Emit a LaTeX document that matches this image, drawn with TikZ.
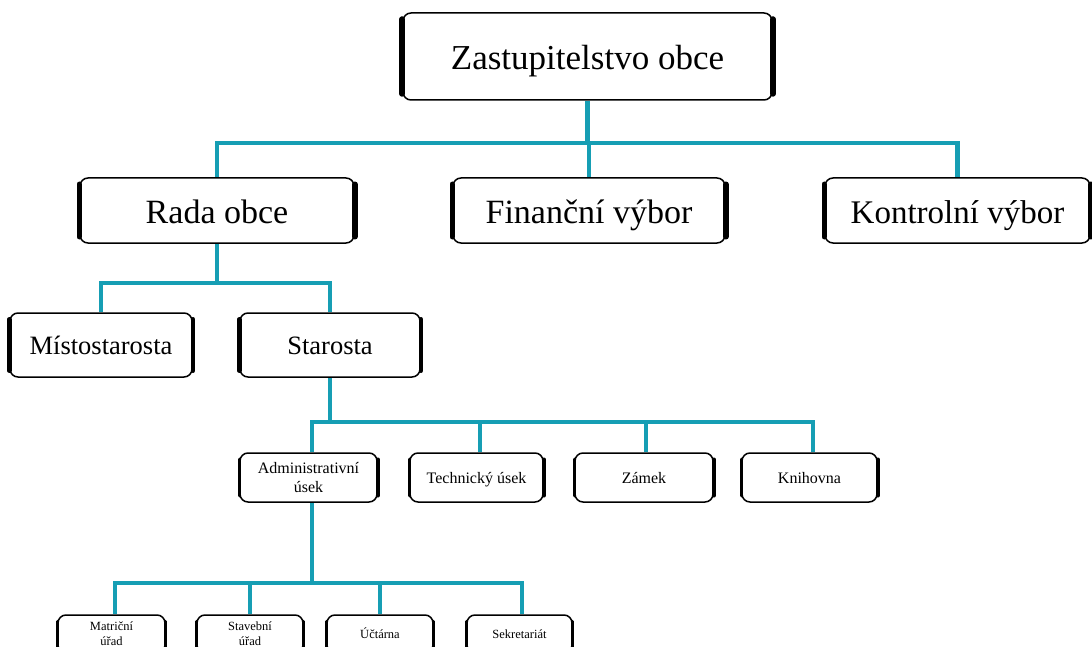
\documentclass[tikz,border=0pt]{standalone}
\usepackage{fontspec}
\setmainfont{Liberation Serif}
\usepackage{tikz}
\usetikzlibrary{calc}

\definecolor{linkteal}{RGB}{22,158,180}

\tikzset{
  orgbox/.style={draw, fill=white, rounded corners=8pt, line width=1.5pt,
    inner sep=0pt, align=center},
  oneline/.style={text height=0.85*#1pt, text depth=0.1*#1pt},
  sidebar/.style={line width=#1, line cap=round},
  conn/.style={draw=linkteal, line width=#1},
  conn/.default=4.2pt
}

\begin{document}
\begin{tikzpicture}[x=1pt, y=-1pt]
  \useasboundingbox (0,0) rectangle (1092,647);
  \clip (0,0) rectangle (1092,647);

  % levels
  \node[orgbox, oneline=35, minimum width=369pt, minimum height=87pt,
        font=\fontsize{35}{40}\selectfont] (zo) at (587.5,56.5) {Zastupitelstvo obce};

  \node[orgbox, oneline=34, minimum width=274pt, minimum height=65pt,
        font=\fontsize{34}{38}\selectfont] (rada) at (217,210.5) {Rada obce};
  \node[orgbox, oneline=34, minimum width=272pt, minimum height=65pt,
        font=\fontsize{34}{38}\selectfont] (fin) at (589,210.5) {Finanční výbor};
  \node[orgbox, oneline=34, minimum width=265pt, minimum height=65pt,
        font=\fontsize{33}{38}\selectfont] (kon) at (957.5,210.5) {Kontrolní výbor};

  \node[orgbox, oneline=26.5, minimum width=182pt, minimum height=64pt,
        font=\fontsize{26.5}{30}\selectfont] (mist) at (101,345) {Místostarosta};
  \node[orgbox, oneline=26.5, minimum width=180pt, minimum height=64pt,
        font=\fontsize{26.5}{30}\selectfont] (star) at (330,345) {Starosta};

  \node[orgbox, minimum width=137pt, minimum height=49pt,
        font=\fontsize{16}{18.5}\selectfont] (admin) at (308.5,477.5) {Administrativní\\úsek};
  \node[orgbox, oneline=16, minimum width=133pt, minimum height=49pt,
        font=\fontsize{16}{18.5}\selectfont] (tech) at (476.5,477.5) {Technický úsek};
  \node[orgbox, oneline=16, minimum width=138pt, minimum height=49pt,
        font=\fontsize{16}{18.5}\selectfont] (zamek) at (644,477.5) {Zámek};
  \node[orgbox, oneline=16, minimum width=135pt, minimum height=49pt,
        font=\fontsize{16}{18.5}\selectfont] (kniha) at (809.5,477.5) {Knihovna};

  \node[orgbox, minimum width=107pt, minimum height=38pt,
        font=\fontsize{12.5}{15}\selectfont] (matr) at (111.5,634) {Matriční\\úřad};
  \node[orgbox, minimum width=106pt, minimum height=38pt,
        font=\fontsize{12.5}{15}\selectfont] (stav) at (250,634) {Stavební\\úřad};
  \node[orgbox, oneline=12.5, minimum width=106pt, minimum height=38pt,
        font=\fontsize{12.5}{15}\selectfont] (ucet) at (380,634) {Účtárna};
  \node[orgbox, oneline=12.5, minimum width=105pt, minimum height=38pt,
        font=\fontsize{12.5}{15}\selectfont] (sekr) at (519.5,634) {Sekretariát};

  % thick sides of the boxes
  \foreach \n/\w in {zo/6pt, rada/5.5pt, fin/5.5pt, kon/5.5pt, mist/4.5pt, star/4.5pt,
                     admin/3.5pt, tech/3.5pt, zamek/3.5pt, kniha/3.5pt,
                     matr/3pt, stav/3pt, ucet/3pt, sekr/3pt} {
    \draw[sidebar=\w] ([yshift=-7pt]\n.north west) -- ([yshift=7pt]\n.south west);
    \draw[sidebar=\w] ([yshift=-7pt]\n.north east) -- ([yshift=7pt]\n.south east);
  }

  % bus lines
  \coordinate (bus1) at (0,143);
  \coordinate (bus2) at (0,283);
  \coordinate (bus3) at (0,422);
  \coordinate (bus4) at (0,583);

  \draw[conn] (zo.south) -- (zo.south |- bus1);
  \draw[conn] (rada.north) -- (rada.north |- bus1) -- (kon.north |- bus1) -- (kon.north);
  \draw[conn] (fin.north) -- (fin.north |- bus1);

  \draw[conn] (rada.south) -- (rada.south |- bus2);
  \draw[conn] (mist.north) -- (mist.north |- bus2) -- (star.north |- bus2) -- (star.north);

  \draw[conn=3.8pt] (star.south) -- (star.south |- bus3);
  \draw[conn=3.8pt] ([xshift=3.5pt]admin.north) -- ([xshift=3.5pt]admin.north |- bus3)
    -- ([xshift=3.5pt]kniha.north |- bus3) -- ([xshift=3.5pt]kniha.north);
  \draw[conn=3.8pt] ([xshift=3.5pt]tech.north) -- ([xshift=3.5pt]tech.north |- bus3);
  \draw[conn=3.8pt] ([xshift=2pt]zamek.north) -- ([xshift=2pt]zamek.north |- bus3);

  \draw[conn=3.8pt] ([xshift=3.5pt]admin.south) -- ([xshift=3.5pt]admin.south |- bus4);
  \draw[conn=3.8pt] ([xshift=3.5pt]matr.north) -- ([xshift=3.5pt]matr.north |- bus4)
    -- ([xshift=2.5pt]sekr.north |- bus4) -- ([xshift=2.5pt]sekr.north);
  \draw[conn=3.8pt] (stav.north) -- (stav.north |- bus4);
  \draw[conn=3.8pt] (ucet.north) -- (ucet.north |- bus4);
\end{tikzpicture}
\end{document}
